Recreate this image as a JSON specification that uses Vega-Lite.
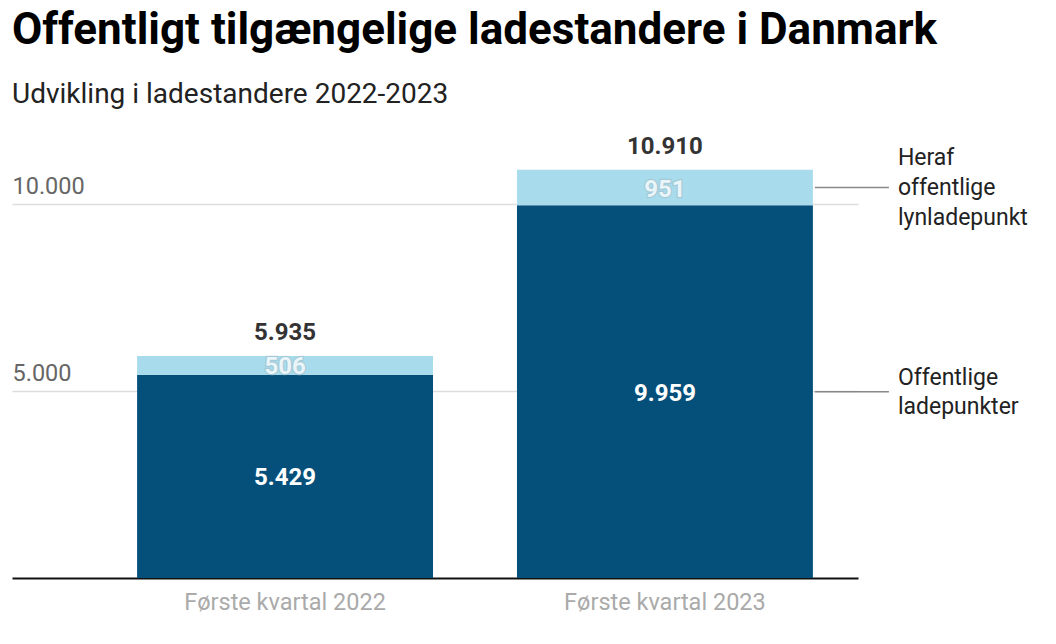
{
  "$schema": "https://vega.github.io/schema/vega-lite/v6.json",
  "width": 846,
  "height": 449,
  "autosize": {"type": "none"},
  "padding": {"left": 12, "top": 129, "right": 198, "bottom": 66},
  "title": {
    "text": "Offentligt tilgængelige ladestandere i Danmark",
    "subtitle": "Udvikling i ladestandere 2022-2023",
    "anchor": "start",
    "font": "Roboto",
    "fontSize": 44,
    "fontWeight": "bold",
    "color": "#000000",
    "subtitleFont": "Roboto",
    "subtitleFontSize": 28,
    "subtitleColor": "#222222",
    "subtitlePadding": 28,
    "offset": 20
  },
  "data": {
    "values": [
      {"kvartal": "Første kvartal 2022", "serie": "Offentlige ladepunkter", "rank": 1, "value": 5429},
      {"kvartal": "Første kvartal 2022", "serie": "Heraf offentlige lynladepunkt", "rank": 2, "value": 506},
      {"kvartal": "Første kvartal 2023", "serie": "Offentlige ladepunkter", "rank": 1, "value": 9959},
      {"kvartal": "Første kvartal 2023", "serie": "Heraf offentlige lynladepunkt", "rank": 2, "value": 951}
    ]
  },
  "transform": [
    {"stack": "value", "groupby": ["kvartal"], "sort": [{"field": "rank", "order": "ascending"}], "as": ["v0", "v1"]},
    {"calculate": "(datum.v0 + datum.v1) / 2", "as": "mid"}
  ],
  "encoding": {
    "x": {
      "field": "kvartal",
      "type": "nominal",
      "sort": ["Første kvartal 2022", "Første kvartal 2023"],
      "scale": {"paddingInner": 0.221, "paddingOuter": 0.224, "align": 0.735},
      "axis": {
        "title": null,
        "labelAngle": 0,
        "labelLimit": 0,
        "domain": true,
        "domainColor": "#111111",
        "domainWidth": 2,
        "ticks": false,
        "labelPadding": 12,
        "labelFont": "Roboto",
        "labelFontSize": 23.5,
        "labelColor": "#aaaaaa",
        "grid": false
      }
    }
  },
  "layer": [
    {
      "mark": {"type": "bar"},
      "encoding": {
        "y": {
          "field": "v0",
          "type": "quantitative",
          "scale": {"domain": [0, 12000], "nice": false, "zero": true},
          "axis": {
            "title": null,
            "values": [5000, 10000],
            "format": ",.0f",
            "grid": true,
            "gridColor": "#dddddd",
            "gridWidth": 1.5,
            "domain": false,
            "ticks": false,
            "tickSize": 0,
            "labelAlign": "left",
            "labelBaseline": "alphabetic",
            "labelPadding": 0,
            "labelOffset": -10,
            "labelFont": "Roboto",
            "labelFontSize": 23.5,
            "labelColor": "#666666"
          }
        },
        "y2": {"field": "v1"},
        "color": {
          "field": "serie",
          "type": "nominal",
          "scale": {"domain": ["Offentlige ladepunkter", "Heraf offentlige lynladepunkt"], "range": ["#05507a", "#a8dcec"]},
          "legend": null
        }
      }
    },
    {
      "transform": [{"filter": "datum.rank == 1"}],
      "mark": {"type": "text", "font": "Roboto", "fontSize": 24, "fontWeight": "bold", "color": "#ffffff", "baseline": "middle", "align": "center", "dy": 2},
      "encoding": {
        "y": {"field": "mid", "type": "quantitative", "scale": {"domain": [0, 12000], "nice": false}},
        "text": {"field": "value", "type": "quantitative", "format": ",.0f"}
      }
    },
    {
      "transform": [{"filter": "datum.rank == 2"}],
      "mark": {"type": "text", "font": "Roboto", "fontSize": 24, "fontWeight": "bold", "fill": "#a3c3cf", "stroke": "#a3c3cf", "strokeWidth": 2.5, "strokeOpacity": 0.7, "baseline": "middle", "align": "center", "dy": 2},
      "encoding": {
        "y": {"field": "mid", "type": "quantitative", "scale": {"domain": [0, 12000], "nice": false}},
        "text": {"field": "value", "type": "quantitative", "format": ",.0f"}
      }
    },
    {
      "transform": [{"filter": "datum.rank == 2"}],
      "mark": {"type": "text", "font": "Roboto", "fontSize": 24, "fontWeight": "bold", "fill": "#eaf5f9", "baseline": "middle", "align": "center", "dy": 2},
      "encoding": {
        "y": {"field": "mid", "type": "quantitative", "scale": {"domain": [0, 12000], "nice": false}},
        "text": {"field": "value", "type": "quantitative", "format": ",.0f"}
      }
    },
    {
      "transform": [{"filter": "datum.rank == 2"}],
      "mark": {"type": "text", "font": "Roboto", "fontSize": 24, "fontWeight": "bold", "color": "#333333", "baseline": "middle", "align": "center", "dy": -23},
      "encoding": {
        "y": {"field": "v1", "type": "quantitative", "scale": {"domain": [0, 12000], "nice": false}},
        "text": {"field": "v1", "type": "quantitative", "format": ",.0f"}
      }
    },
    {
      "transform": [{"filter": "datum.kvartal == 'Første kvartal 2023'"}],
      "mark": {"type": "rule", "color": "#888888", "strokeWidth": 1.5, "xOffset": 2, "x2Offset": 76},
      "encoding": {
        "x": {"field": "kvartal", "type": "nominal", "bandPosition": 1},
        "x2": {"field": "kvartal", "bandPosition": 1},
        "y": {"field": "mid", "type": "quantitative", "scale": {"domain": [0, 12000], "nice": false}}
      }
    },
    {
      "transform": [{"filter": "datum.kvartal == 'Første kvartal 2023' && datum.rank == 2"}],
      "mark": {"type": "text", "font": "Roboto", "fontSize": 23, "color": "#222222", "align": "left", "baseline": "middle", "xOffset": 85, "dy": -30, "lineBreak": " ", "lineHeight": 30},
      "encoding": {
        "x": {"field": "kvartal", "type": "nominal", "bandPosition": 1},
        "y": {"field": "mid", "type": "quantitative", "scale": {"domain": [0, 12000], "nice": false}},
        "text": {"field": "serie", "type": "nominal"}
      }
    },
    {
      "transform": [{"filter": "datum.kvartal == 'Første kvartal 2023' && datum.rank == 1"}],
      "mark": {"type": "text", "font": "Roboto", "fontSize": 23, "color": "#222222", "align": "left", "baseline": "middle", "xOffset": 85, "dy": -14, "lineBreak": " ", "lineHeight": 29},
      "encoding": {
        "x": {"field": "kvartal", "type": "nominal", "bandPosition": 1},
        "y": {"field": "mid", "type": "quantitative", "scale": {"domain": [0, 12000], "nice": false}},
        "text": {"field": "serie", "type": "nominal"}
      }
    }
  ],
  "config": {
    "view": {"stroke": null},
    "font": "Roboto",
    "locale": {"number": {"decimal": ",", "thousands": ".", "grouping": [3], "currency": ["", " kr."]}}
  }
}
